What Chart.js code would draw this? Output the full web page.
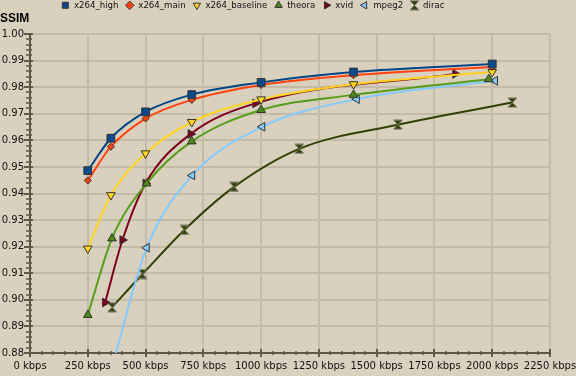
<!DOCTYPE html>
<html>
<head>
<meta charset="utf-8">
<script src="https://cdn.jsdelivr.net/npm/chart.js@4.4.1/dist/chart.umd.min.js"></script>
<style>
  html, body { margin: 0; padding: 0; background: #d9d1bd; }
  #wrap { width: 576px; height: 376px; position: relative; }
</style>
</head>
<body>
<div id="wrap"><canvas id="chart"></canvas></div>
<script>
// bitrate (kbps) and SSIM per codec
const x264Kbps = [250, 350, 500, 700, 1000, 1400, 2000];
const x264High = [0.9486, 0.9608, 0.9707, 0.9772, 0.9818, 0.9857, 0.9887];
const x264Main = [0.9449, 0.9576, 0.9682, 0.9752, 0.9808, 0.9845, 0.9876];
const x264Baseline = [0.9193, 0.9394, 0.9551, 0.9669, 0.9754, 0.9811, 0.9857];

const theoraKbps = [250, 355, 505, 700, 1000, 1400, 1985];
const theora = [0.8943, 0.9231, 0.9438, 0.9596, 0.9714, 0.9771, 0.9830];

const xvidKbps = [325, 400, 500, 695, 975, 1840];
const xvid = [0.8990, 0.9225, 0.9438, 0.9624, 0.9739, 0.9850];

const mpeg2Kbps = [355, 505, 702, 1005, 1414, 2012];
const mpeg2 = [0.8750, 0.9196, 0.9468, 0.9651, 0.9755, 0.9824];

const diracKbps = [355, 487, 668, 883, 1165, 1592, 2087];
const dirac = [0.8972, 0.9097, 0.9263, 0.9425, 0.9568, 0.9659, 0.9742];

const xMin = 0, xMax = 2250, xStep = 250;
const yMin = 0.88, yMax = 1.00, yStep = 0.01;

const axisColor = '#5f5748';
const gridColor = '#c4bba6';

Chart.defaults.font.family = 'DejaVu Sans';
Chart.defaults.color = '#111';

// hourglass marker for dirac
const hourglass = document.createElement('canvas');
hourglass.width = 11;
hourglass.height = 11;
{
    const g = hourglass.getContext('2d');
    g.beginPath();
    g.moveTo(1, 1);
    g.lineTo(10, 1);
    g.lineTo(1, 10);
    g.lineTo(10, 10);
    g.closePath();
    g.fillStyle = '#314004';
    g.fill();
    g.strokeStyle = '#77776a';
    g.lineWidth = 1;
    g.stroke();
}

const toPoints = (xs, ys) => xs.map((x, i) => ({ x, y: ys[i] }));

const series = (label, xs, ys, color, style) => ({
    label,
    data: toPoints(xs, ys),
    borderColor: color,
    backgroundColor: color,
    borderWidth: 2,
    pointBorderColor: '#333',
    pointBorderWidth: 1,
    cubicInterpolationMode: 'monotone',
    ...style
});

const axisTicks = {
    id: 'axisTicks',
    beforeDatasetsDraw(chart) {
        const { ctx, chartArea: area, scales: { x, y } } = chart;
        ctx.save();
        ctx.strokeStyle = axisColor;
        for (let i = 0; i <= (xMax - xMin) / 50; i++) {
            const major = i % 5 === 0;
            const px = Math.round(x.getPixelForValue(xMin + i * 50));
            const len = major ? 4 : 2;
            ctx.lineWidth = major ? 2 : 1.5;
            ctx.beginPath();
            ctx.moveTo(px, area.bottom - len);
            ctx.lineTo(px, area.bottom + len);
            ctx.stroke();
        }
        const ySteps = Math.round((yMax - yMin) / 0.002);
        for (let i = 0; i <= ySteps; i++) {
            const major = i % 5 === 0;
            const py = Math.round(y.getPixelForValue(yMin + i * 0.002));
            ctx.lineWidth = major ? 2 : 1.5;
            ctx.beginPath();
            ctx.moveTo(area.left - (major ? 6 : 4), py);
            ctx.lineTo(area.left + (major ? 3 : 2), py);
            ctx.stroke();
        }
        ctx.restore();
    }
};

// legend starts at x≈61 in the original and hugs the top edge
const legendShift = {
    id: 'legendShift',
    afterLayout(chart) {
        chart.legend.left = 54;
        chart.legend.top = -6;
    }
};

new Chart(document.getElementById('chart'), {
    type: 'line',
    data: {
        datasets: [
            series('x264_high', x264Kbps, x264High, '#004586', { pointStyle: 'rect', pointRadius: 5.5, pointBackgroundColor: '#0b4a8c' }),
            series('x264_main', x264Kbps, x264Main, '#ff420e', { pointStyle: 'rectRot', pointRadius: 3.5 }),
            series('x264_baseline', x264Kbps, x264Baseline, '#ffd320', { pointStyle: 'triangle', pointRotation: 180, pointRadius: 5 }),
            series('theora', theoraKbps, theora, '#579d1c', { pointStyle: 'triangle', pointRadius: 5, pointBackgroundColor: '#4b8a17' }),
            series('xvid', xvidKbps, xvid, '#7e0021', { pointStyle: 'triangle', pointRotation: 90, pointRadius: 5 }),
            series('mpeg2', mpeg2Kbps, mpeg2, '#83caff', { pointStyle: 'triangle', pointRotation: 270, pointRadius: 5 }),
            series('dirac', diracKbps, dirac, '#314004', { pointStyle: hourglass, pointRadius: 5 })
        ]
    },
    options: {
        responsive: true,
        maintainAspectRatio: false,
        animation: false,
        layout: { padding: 0 },
        plugins: {
            legend: {
                position: 'top',
                align: 'start',
                weight: 3000,
                maxHeight: 13,
                labels: {
                    usePointStyle: true,
                    boxWidth: 9,
                    boxHeight: 6,
                    padding: 7,
                    color: '#111',
                    font: { size: 8.6 }
                }
            },
            title: {
                display: true,
                text: 'SSIM',
                align: 'start',
                color: '#000',
                font: { family: 'Liberation Sans', size: 12, weight: 'bold', lineHeight: 1 },
                padding: { top: 0, bottom: 9 }
            },
            tooltip: { enabled: false }
        },
        scales: {
            x: {
                type: 'linear',
                min: xMin,
                max: xMax,
                afterFit: (scale) => {
                    scale.height = 23;
                    scale.paddingRight = 26;
                    scale.paddingLeft = 0;
                },
                ticks: {
                    stepSize: xStep,
                    padding: 7,
                    maxRotation: 0,
                    color: '#111',
                    font: { size: 10 },
                    callback: (v) => v + ' kbps'
                },
                grid: { color: gridColor, lineWidth: 2, drawTicks: false },
                border: { color: axisColor, width: 2 }
            },
            y: {
                min: yMin,
                max: yMax,
                afterFit: (scale) => { scale.width = 30; },
                ticks: {
                    stepSize: yStep,
                    padding: 6,
                    color: '#111',
                    font: { size: 10 },
                    callback: (v) => v.toFixed(2)
                },
                grid: { color: gridColor, lineWidth: 2, drawTicks: false },
                border: { color: axisColor, width: 2 }
            }
        }
    },
    plugins: [axisTicks, legendShift]
});
</script>
</body>
</html>
